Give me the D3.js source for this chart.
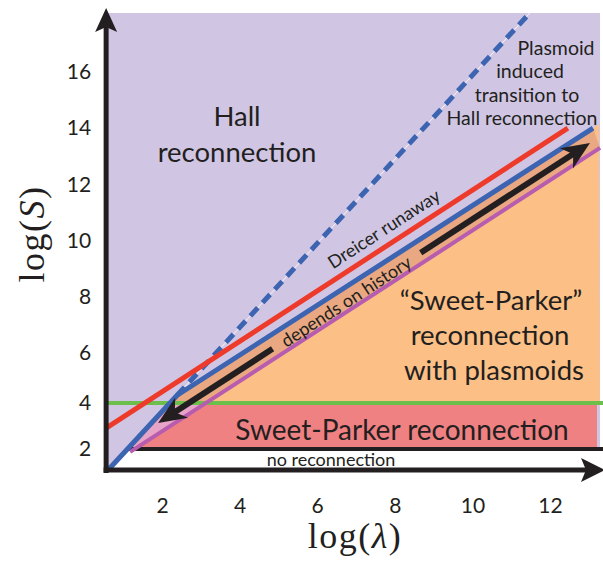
<!DOCTYPE html>
<html><head><meta charset="utf-8">
<script src="https://cdn.jsdelivr.net/npm/d3@7"></script>
<style>
html,body{margin:0;padding:0;background:#fff;}
svg{display:block;}
.sans{font-family:Lato,"Open Sans",sans-serif;fill:#231f20;}
.serif{font-family:"Liberation Serif","DejaVu Serif",serif;fill:#231f20;}
</style></head><body>
<svg id="chart" width="603" height="564"></svg>
<script>
// ---- data (log lambda, log S) ----
const xTicks = [2, 4, 6, 8, 10, 12];
const yTicks = [2, 4, 6, 8, 10, 12, 14, 16];
const xExtent = [0.56, 13.29];
const yExtent = [1, 18.1];
const greenLevel = 4;
const floorLevel = 2;
const redLine = [[0.56, 2.91], [12.46, 14.0]];
const blueLine = [[0.61, 1.0], [2.39, 4.31], [13.11, 14.0]];
const blueDashed = [[2.39, 4.31], [11.48, 18.1]];
const magentaLine = [[1.18, 1.86], [13.29, 13.3]];
const arrowLine = [[1.90, 3.13], [13.03, 13.47]];
const arrowGap = [0.265, 0.608];
const orangeCorner = [13.26, 14.15];
const redBandRight = 13.21;

const C = {purple:"#d0c6e3", orange:"#fcc086", tan:"#e9a881", pink:"#e8a4c6", salmon:"#f08182",
           red:"#ee3a2b", blue:"#3c64b1", magenta:"#b75cae", green:"#6cbf4a", black:"#231f20"};

const svg = d3.select("#chart");
const x = d3.scaleLinear().domain([2, 12]).range([162, 550]);
const y = d3.scaleLinear().domain([1, 2, 4, 6, 16]).range([470, 449, 403, 353, 72]);
const P = pts => pts.map(([a, b]) => [x(a), y(b)]);
const line = d3.line();

const X0 = x(xExtent[0]), X1 = x(xExtent[1]), Y0 = y(yExtent[0]), Y1 = y(yExtent[1]);
const W = 603;

function xAtY(p, q, py) { return p[0] + (q[0] - p[0]) * (py - p[1]) / (q[1] - p[1]); }

const defs = svg.append("defs");
function clip(id, x0, y0, x1, y1) {
  defs.append("clipPath").attr("id", id).append("rect")
    .attr("x", x0).attr("y", y0).attr("width", x1 - x0).attr("height", y1 - y0);
}
clip("aboveGreen", 0, 0, W, y(greenLevel));
clip("midBand", 0, y(greenLevel), x(redBandRight), y(floorLevel));
clip("belowFloor", 0, y(floorLevel), W, Y0);

// purple background
svg.append("rect").attr("x", X0).attr("y", Y1).attr("width", X1 - X0).attr("height", Y0 - Y1)
  .attr("fill", C.purple);

const bl = P(blueLine);
const region = bl.concat([[x(orangeCorner[0]), y(orangeCorner[1])], [X1, Y0]]);
svg.append("path").attr("d", line(region) + "Z").attr("fill", C.orange).attr("clip-path", "url(#aboveGreen)");
svg.append("path").attr("d", line(region) + "Z").attr("fill", C.salmon).attr("clip-path", "url(#midBand)");
svg.append("path").attr("d", line(region) + "Z").attr("fill", "#fff").attr("clip-path", "url(#belowFloor)");

const band = bl.concat(P(magentaLine).reverse());
svg.append("path").attr("d", line(band) + "Z").attr("fill", C.tan).attr("clip-path", "url(#aboveGreen)");
svg.append("path").attr("d", line(band) + "Z").attr("fill", C.pink).attr("clip-path", "url(#midBand)");

// green line
svg.append("line").attr("x1", X0).attr("x2", W).attr("y1", y(greenLevel)).attr("y2", y(greenLevel))
  .attr("stroke", C.green).attr("stroke-width", 4);
// floor black line
const fx = xAtY(bl[0], bl[1], y(floorLevel));
svg.append("line").attr("x1", fx).attr("x2", W).attr("y1", y(floorLevel)).attr("y2", y(floorLevel))
  .attr("stroke", C.black).attr("stroke-width", 4);

// magenta
svg.append("path").attr("d", line(P(magentaLine))).attr("stroke", C.magenta).attr("stroke-width", 4).attr("fill", "none");
// dashed blue with thin white line
svg.append("path").attr("d", line(P(blueDashed))).attr("stroke", "#fff").attr("stroke-width", 0.8).attr("fill", "none");
svg.append("path").attr("d", line(P(blueDashed))).attr("stroke", C.blue).attr("stroke-width", 5)
  .attr("stroke-dasharray", "11,7").attr("fill", "none");
// solid blue
svg.append("path").attr("d", line(bl)).attr("stroke", C.blue).attr("stroke-width", 5).attr("fill", "none")
  .attr("stroke-linejoin", "round");
// red
svg.append("path").attr("d", line(P(redLine))).attr("stroke", C.red).attr("stroke-width", 5).attr("fill", "none");

function arrowHead(tip, from, len, half, notch) {
  const dx = tip[0] - from[0], dy = tip[1] - from[1], L = Math.hypot(dx, dy);
  const ux = dx / L, uy = dy / L, nx = -uy, ny = ux;
  const b = [tip[0] - ux * len, tip[1] - uy * len];
  const n = [tip[0] - ux * notch, tip[1] - uy * notch];
  return [tip, [b[0] + nx * half, b[1] + ny * half], n, [b[0] - nx * half, b[1] - ny * half]];
}
function pointAt(p, q, t) { return [p[0] + (q[0] - p[0]) * t, p[1] + (q[1] - p[1]) * t]; }

// black double arrow
const ar = P(arrowLine);
const a0 = ar[0], a1 = ar[1];
const g0 = pointAt(a0, a1, arrowGap[0]), g1 = pointAt(a0, a1, arrowGap[1]);
const aLen = Math.hypot(a1[0] - a0[0], a1[1] - a0[1]);
const s0 = pointAt(a0, a1, 15 / aLen), s1 = pointAt(a0, a1, 1 - 15 / aLen);
svg.append("line").attr("x1", s0[0]).attr("y1", s0[1]).attr("x2", g0[0]).attr("y2", g0[1])
  .attr("stroke", C.black).attr("stroke-width", 6);
svg.append("line").attr("x1", g1[0]).attr("y1", g1[1]).attr("x2", s1[0]).attr("y2", s1[1])
  .attr("stroke", C.black).attr("stroke-width", 6);
svg.append("path").attr("d", line(arrowHead(a0, a1, 28, 12, 20)) + "Z").attr("fill", C.black);
svg.append("path").attr("d", line(arrowHead(a1, a0, 28, 12, 20)) + "Z").attr("fill", C.black);

// axes lines with arrows
const yTip = [X0, 8], xTip = [605, Y0];
svg.append("line").attr("x1", X0).attr("y1", Y0 + 3).attr("x2", X0).attr("y2", 24)
  .attr("stroke", C.black).attr("stroke-width", 5);
svg.append("line").attr("x1", X0 - 2.5).attr("y1", Y0).attr("x2", 590).attr("y2", Y0)
  .attr("stroke", C.black).attr("stroke-width", 5);
svg.append("path").attr("d", line(arrowHead(yTip, [X0, Y0], 24, 11, 19)) + "Z").attr("fill", C.black);
svg.append("path").attr("d", line(arrowHead(xTip, [X0, Y0], 24, 12, 19)) + "Z").attr("fill", C.black);

// tick labels
const yAxis = svg.append("g").attr("transform", `translate(${X0},0)`)
  .call(d3.axisLeft(y).tickValues(yTicks).tickSize(0).tickPadding(15).tickFormat(d3.format("d")));
const xAxis = svg.append("g").attr("transform", `translate(0,${Y0})`)
  .call(d3.axisBottom(x).tickValues(xTicks).tickSize(0).tickPadding(28).tickFormat(d3.format("d")));
[yAxis, xAxis].forEach(g => {
  g.select(".domain").remove();
  g.selectAll("text").attr("class", "sans").style("font-size", "21px").attr("fill", C.black);
});

// axis titles
const xt = svg.append("text").attr("class", "serif").attr("x", 355).attr("y", 548)
  .attr("text-anchor", "middle").style("font-size", "36px").style("letter-spacing", "1.5px");
xt.append("tspan").text("log(");
xt.append("tspan").attr("font-style", "italic").text("λ");
xt.append("tspan").text(")");
const yt = svg.append("text").attr("class", "serif").attr("transform", "translate(44,234) rotate(-90)")
  .attr("text-anchor", "middle").style("font-size", "36px").style("letter-spacing", "1.5px");
yt.append("tspan").text("log(");
yt.append("tspan").attr("font-style", "italic").text("S");
yt.append("tspan").text(")");

// region labels
function label(lines, size) {
  lines.forEach(([t, cx, by]) => {
    svg.append("text").attr("class", "sans").attr("x", cx).attr("y", by)
      .attr("text-anchor", "middle").style("font-size", size + "px").text(t);
  });
}
label([["Hall", 237, 126], ["reconnection", 237, 162]], 27.5);
label([["Plasmoid", 556, 55], ["induced", 530, 78], ["transition to", 527, 102], ["Hall reconnection", 522, 125]], 19.5);
label([["\u201CSweet-Parker\u201D", 491, 310], ["reconnection", 490, 345], ["with plasmoids", 494, 380]], 27.5);
label([["Sweet-Parker reconnection", 402, 440]], 28);
label([["no reconnection", 331, 466]], 18);

// rotated labels along lines
const ang = Math.atan2(a1[1] - a0[1], a1[0] - a0[0]) * 180 / Math.PI;
function rotLabel(t, px, py, size) {
  svg.append("text").attr("class", "sans").attr("text-anchor", "middle")
    .attr("transform", `translate(${px},${py}) rotate(${ang})`).style("font-size", size + "px").text(t);
}
const gm = pointAt(a0, a1, (arrowGap[0] + arrowGap[1]) / 2);
rotLabel("depends on history", gm[0] + 3, gm[1] + 6, 18);
const rl = P(redLine);
const rm = pointAt(rl[0], rl[1], 0.62);
rotLabel("Dreicer runaway", rm[0] - 5, rm[1] - 8, 18);
</script>
</body></html>
